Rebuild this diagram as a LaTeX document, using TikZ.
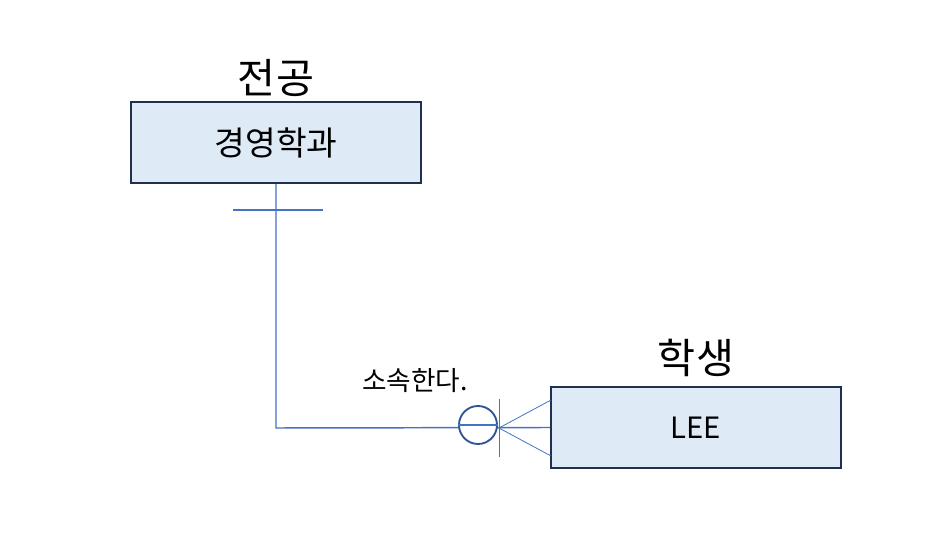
\documentclass[tikz,border=0pt]{standalone}
\usepackage{fontspec}
\setmainfont{Noto Sans CJK KR}
\begin{document}
\begin{tikzpicture}[x=0.75pt,y=-0.75pt,
  entity/.style={draw=boxline,fill=boxfill,line width=1.5pt,minimum width=290*0.75pt,minimum height=81*0.75pt,inner sep=0pt,font=\fontsize{25}{28}\selectfont},
  title/.style={font=\fontsize{31}{34}\selectfont,inner sep=0pt},
  rel/.style={draw=relblue,line width=1.1pt},
  thin/.style={draw=relblue,line width=0.6pt}]
\definecolor{boxfill}{HTML}{DEEBF7}
\definecolor{boxline}{HTML}{1F3050}
\definecolor{relblue}{HTML}{4472C4}
\definecolor{circblue}{HTML}{2F5597}
\useasboundingbox (0,0) rectangle (947,545);
\node[entity] (maj) at (276,142.5) {경영학과};
\node[entity,font=\fontsize{22}{26}\selectfont] (stu) at (696,427.5) {LEE};
\node[title] (t1) at (276,78) {전공};
\node[title] (t2) at (696,358) {학생};
\node[font=\fontsize{20}{22}\selectfont,inner sep=0pt] (lab) at (415,381) {소속한다.};
\coordinate (corner) at (276,428);
\coordinate (cl) at (233,210);
\coordinate (cr) at (323,210);
\coordinate (foot) at (499,428);
\coordinate (ft) at (499,399);
\coordinate (fb) at (499,457);
\coordinate (ua) at (551,400);
\coordinate (ub) at (551,456);
\draw[rel] (maj.south) -- (corner) -- (stu.west);
\draw[rel] (cl) -- (cr);
\draw[thin] (ft) -- (fb);
\draw[thin] (ua) -- (foot) -- (ub);
\node[draw=circblue,line width=1.4pt,circle,minimum size=38*0.75pt,inner sep=0pt,fill=white] (circ) at (478,425) {};
\draw[rel] (circ.west) -- (circ.east);
\end{tikzpicture}
\end{document}
